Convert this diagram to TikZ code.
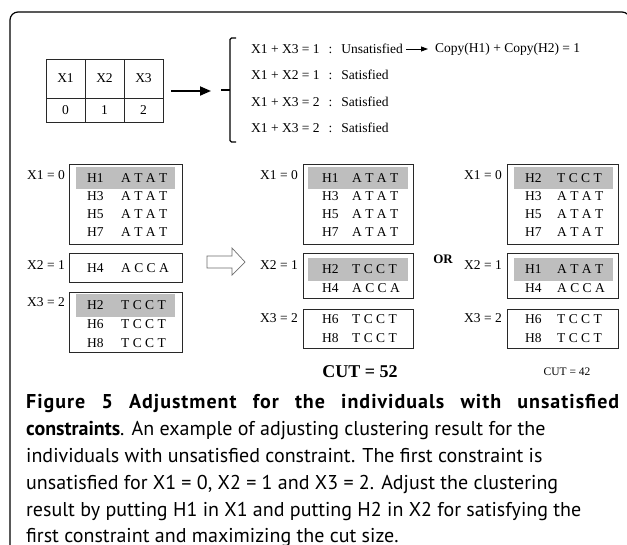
\documentclass[tikz,border=0pt]{standalone}
\usepackage{fontspec}
\setmainfont{Liberation Serif}
\newfontfamily\capfont{PT Sans}
\newfontfamily\capboldfont[LetterSpace=5]{PT Sans Bold}
\usetikzlibrary{arrows.meta}
\definecolor{bandc}{RGB}{190,190,190}
\definecolor{boxc}{RGB}{40,40,40}
\definecolor{hollowc}{RGB}{110,110,110}
\tikzset{
  serif/.style={font=\fontsize{13.5}{15}\selectfont, inner sep=0pt},
  lbl/.style={serif, anchor=east},
  hname/.style={serif, anchor=west},
  seq/.style={serif, anchor=west},
  cbox/.style={draw=boxc, line width=1.1pt, inner sep=0pt, anchor=north west},
  band/.style={fill=bandc, inner sep=0pt, anchor=north west},
  cell/.style={draw=boxc, line width=0.9pt, inner sep=0pt, minimum width=39, font=\fontsize{13.5}{15}\selectfont},
  captext/.style={font=\capfont\fontsize{20}{22}\selectfont, inner sep=0pt, anchor=base west},
  bigarrow/.style={line width=1.8pt, -{Triangle[length=11pt,width=9pt]}},
  smallarrow/.style={line width=0.8pt, -{Triangle[length=7pt,width=5pt]}},
  brace/.style={line width=1.2pt, rounded corners=1.5pt},
  frame/.style={line width=1.2pt, rounded corners=8pt}
}
\newcommand{\colsep}{\hspace{9pt}:\hspace{9pt}}
\begin{document}
\begin{tikzpicture}[x=1pt,y=-1pt]
\useasboundingbox (0,0) rectangle (627,544);
\clip (0,0) rectangle (627,544);
\fill[white] (0,0) rectangle (627,544);
% frame
\draw[frame] (10,570) -- (10,12) -- (630,12) -- (630,570);

% top table
\node[cell, minimum height=39] (t11) at (65.5,78.5) {X1};
\node[cell, minimum height=39] (t12) at (104.5,78.5) {X2};
\node[cell, minimum height=39] (t13) at (143.5,78.5) {X3};
\node[cell, minimum height=24] (t21) at (65.5,110) {0};
\node[cell, minimum height=24] (t22) at (104.5,110) {1};
\node[cell, minimum height=24] (t23) at (143.5,110) {2};

% big arrow
\coordinate (ba1) at (171,91);
\coordinate (ba2) at (211,91);
\draw[bigarrow] (ba1) -- (ba2);

% bracket
\coordinate (brt) at (236,38);
\coordinate (brb) at (236,142);
\coordinate (brm) at (221,90);
\draw[brace] (brt) -- (230,38) -- (230,142) -- (brb);
\draw[line width=1.2pt] (brm) -- (230,90);

% constraints
\node[serif, anchor=west] (c1) at (251,49) {X1 + X3 = 1\colsep Unsatisfied};
\node[serif, anchor=west] (c2) at (251,75) {X1 + X2 = 1\colsep Satisfied};
\node[serif, anchor=west] (c3) at (251,102) {X1 + X3 = 2\colsep Satisfied};
\node[serif, anchor=west] (c4) at (251,128) {X1 + X3 = 2\colsep Satisfied};
\node[serif, anchor=west] (copy) at (435,49) {Copy(H1) + Copy(H2) = 1};
\draw[smallarrow] ([xshift=3pt]c1.east) -- ([xshift=-7pt]copy.west);

% ---------- left column
\node[lbl] (lx1) at (65,175) {X1 = 0};
\node[lbl] (lx2) at (65,265) {X2 = 1};
\node[lbl] (lx3) at (65,302) {X3 = 2};
\node[cbox, minimum width=113, minimum height=80] (L1) at (69,164) {};
\node[band, minimum width=99, minimum height=22] (L1b) at (76,167) {};
\node[hname] (L1h1) at (87,178) {H1}; \node[seq] (L1s1) at (121,178) {A T A T};
\node[hname] (L1h2) at (87,196) {H3}; \node[seq] (L1s2) at (121,196) {A T A T};
\node[hname] (L1h3) at (87,214) {H5}; \node[seq] (L1s3) at (121,214) {A T A T};
\node[hname] (L1h4) at (87,232) {H7}; \node[seq] (L1s4) at (121,232) {A T A T};
\node[cbox, minimum width=113, minimum height=29] (L2) at (69,253) {};
\node[hname] (L2h1) at (87,268) {H4}; \node[seq] (L2s1) at (121,268) {A C C A};
\node[cbox, minimum width=113, minimum height=60] (L3) at (69,292) {};
\node[band, minimum width=99, minimum height=23] (L3b) at (76,294) {};
\node[hname] (L3h1) at (87,305) {H2}; \node[seq] (L3s1) at (121,305) {T C C T};
\node[hname] (L3h2) at (87,324) {H6}; \node[seq] (L3s2) at (121,324) {T C C T};
\node[hname] (L3h3) at (87,343) {H8}; \node[seq] (L3s3) at (121,343) {T C C T};

% hollow arrow
\draw[hollowc, line width=0.7pt, fill=white] (207,256) -- (232,256) -- (232,248) -- (245,262) -- (232,275) -- (232,268) -- (207,268) -- cycle;

% ---------- middle column
\node[lbl] (mx1) at (298,175) {X1 = 0};
\node[lbl] (mx2) at (298,265) {X2 = 1};
\node[lbl] (mx3) at (298,318) {X3 = 2};
\node[cbox, minimum width=110, minimum height=80] (M1) at (303,164) {};
\node[band, minimum width=100, minimum height=22] (M1b) at (308,167) {};
\node[hname] (M1h1) at (322,178) {H1}; \node[seq] (M1s1) at (352,178) {A T A T};
\node[hname] (M1h2) at (322,196) {H3}; \node[seq] (M1s2) at (352,196) {A T A T};
\node[hname] (M1h3) at (322,214) {H5}; \node[seq] (M1s3) at (352,214) {A T A T};
\node[hname] (M1h4) at (322,232) {H7}; \node[seq] (M1s4) at (352,232) {A T A T};
\node[cbox, minimum width=110, minimum height=45] (M2) at (303,253) {};
\node[band, minimum width=100, minimum height=23] (M2b) at (308,258) {};
\node[hname] (M2h1) at (322,269) {H2}; \node[seq] (M2s1) at (352,269) {T C C T};
\node[hname] (M2h2) at (322,288) {H4}; \node[seq] (M2s2) at (352,288) {A C C A};
\node[cbox, minimum width=110, minimum height=39] (M3) at (303,309) {};
\node[hname] (M3h1) at (322,319) {H6}; \node[seq] (M3s1) at (352,319) {T C C T};
\node[hname] (M3h2) at (322,338) {H8}; \node[seq] (M3s2) at (352,338) {T C C T};
\node[serif, font=\bfseries\fontsize{18}{20}\selectfont] (cut52) at (360,372) {CUT = 52};

\node[serif, font=\bfseries\fontsize{13}{15}\selectfont] (or) at (443,259) {OR};

% ---------- right column
\node[lbl] (rx1) at (502,175) {X1 = 0};
\node[lbl] (rx2) at (502,265) {X2 = 1};
\node[lbl] (rx3) at (502,318) {X3 = 2};
\node[cbox, minimum width=111, minimum height=80] (R1) at (507,164) {};
\node[band, minimum width=99, minimum height=22] (R1b) at (514,167) {};
\node[hname] (R1h1) at (525,178) {H2}; \node[seq] (R1s1) at (557,178) {T C C T};
\node[hname] (R1h2) at (525,196) {H3}; \node[seq] (R1s2) at (557,196) {A T A T};
\node[hname] (R1h3) at (525,214) {H5}; \node[seq] (R1s3) at (557,214) {A T A T};
\node[hname] (R1h4) at (525,232) {H7}; \node[seq] (R1s4) at (557,232) {A T A T};
\node[cbox, minimum width=111, minimum height=45] (R2) at (507,253) {};
\node[band, minimum width=99, minimum height=23] (R2b) at (514,258) {};
\node[hname] (R2h1) at (525,269) {H1}; \node[seq] (R2s1) at (557,269) {A T A T};
\node[hname] (R2h2) at (525,288) {H4}; \node[seq] (R2s2) at (557,288) {A C C A};
\node[cbox, minimum width=111, minimum height=39] (R3) at (507,309) {};
\node[hname] (R3h1) at (525,319) {H6}; \node[seq] (R3s1) at (557,319) {T C C T};
\node[hname] (R3h2) at (525,338) {H8}; \node[seq] (R3s2) at (557,338) {T C C T};
\node[serif, font=\fontsize{11.5}{13}\selectfont] (cut42) at (567,372) {CUT = 42};

% ---------- caption
\node[captext] (cap1) at (26,408) {\makebox[593pt][s]{\capboldfont Figure 5 Adjustment for the individuals with unsatisfied}};
\node[captext] (cap2) at (26,435) {\textbf{constraints}. An example of adjusting clustering result for the};
\node[captext] (cap3) at (26,462) {individuals with unsatisfied constraint. The first constraint is};
\node[captext] (cap4) at (26,489) {unsatisfied for X1 = 0, X2 = 1 and X3 = 2. Adjust the clustering};
\node[captext] (cap5) at (26,516) {result by putting H1 in X1 and putting H2 in X2 for satisfying the};
\node[captext] (cap6) at (26,542) {first constraint and maximizing the cut size.};
\end{tikzpicture}
\end{document}
